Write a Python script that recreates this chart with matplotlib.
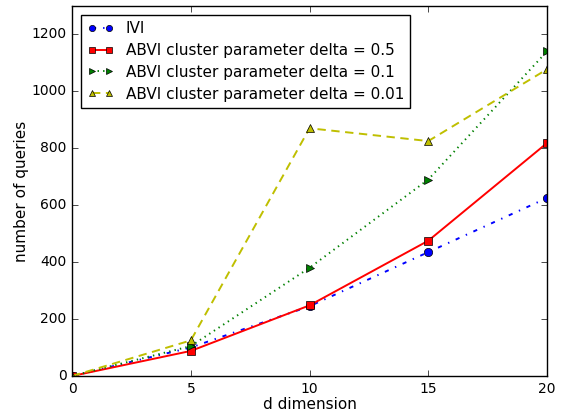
import matplotlib
matplotlib.use('Agg')
import matplotlib.pyplot as plt

plt.style.use('classic')
plt.rcParams['font.size'] = 11
plt.rcParams['xtick.labelsize'] = 10
plt.rcParams['ytick.labelsize'] = 10

d = [0, 5, 10, 15, 20]
ivi = [0, 100, 245, 435, 625]
abvi_05 = [0, 88, 248, 475, 818]
abvi_01 = [0, 105, 380, 690, 1140]
abvi_001 = [0, 125, 870, 825, 1077]

fig = plt.figure(figsize=(5.68, 4.15), dpi=100)
ax = fig.add_axes([0.127, 0.094, 0.836, 0.892])

ax.plot(d, ivi, 'bo-.', lw=1.4, ms=6, label='IVI')
ax.plot(d, abvi_05, 'rs-', lw=1.4, ms=6, label='ABVI cluster parameter delta = 0.5')
ax.plot(d, abvi_01, 'g>:', lw=1.4, ms=6, label='ABVI cluster parameter delta = 0.1')
ax.plot(d, abvi_001, 'y^--', lw=1.4, ms=6, dashes=(6, 4),
        label='ABVI cluster parameter delta = 0.01')

ax.set_xlim(0, 20)
ax.set_ylim(0, 1300)
ax.set_xticks([0, 5, 10, 15, 20])
ax.set_yticks([0, 200, 400, 600, 800, 1000, 1200])
ax.set_xlabel('d dimension', fontsize=11, labelpad=1)
ax.set_ylabel('number of queries', fontsize=11, labelpad=2)
ax.legend(loc='upper left', numpoints=2, fontsize=11, markerscale=0.75,
          handlelength=1.7, borderaxespad=0.6, labelspacing=0.45)

fig.savefig('out.png', dpi=100)
